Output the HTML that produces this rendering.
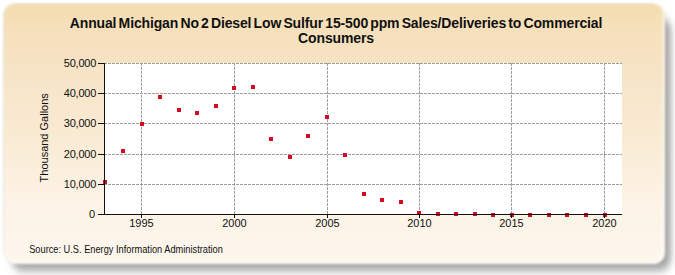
<!DOCTYPE html>
<html><head><meta charset="utf-8"><style>
html,body{margin:0;padding:0;background:#fff;width:675px;height:275px;overflow:hidden}
.shadow{position:absolute;left:0;top:0}
.box{position:absolute;left:3.5px;top:3.5px;width:661px;height:260.3px;border-radius:12px;border:0;box-sizing:border-box;background:linear-gradient(to bottom,#f5dcae 0%,#f6e0ba 8%,#f6e3c4 22%,#f8e7cd 37%,#f9ead2 49%,#fdf3e6 77%,#fdf7ee 100%);filter:blur(1.1px);box-shadow:inset -3px -2px 3px -1px rgba(255,255,255,0.7), -1px -1px 0 0 rgba(90,90,50,0.16)}
.title{position:absolute;left:0;width:672px;top:16px;text-align:center;font:bold 14px/15px "Liberation Sans",sans-serif;color:#111;letter-spacing:-0.14px;word-spacing:-1.5px}
svg{position:absolute;left:0;top:0}
text{font-family:"Liberation Sans",sans-serif;font-size:11px;fill:#111} .yl text{letter-spacing:-0.2px}
</style></head><body>
<svg class="shadow" width="675" height="275"><defs><filter id="sh" x="-10%" y="-10%" width="120%" height="130%"><feGaussianBlur stdDeviation="3.1 4.5"/></filter></defs><rect x="11" y="17" width="660" height="254" rx="13" fill="rgba(0,0,0,0.35)" filter="url(#sh)"/></svg>
<div class="box"></div>
<div class="title">Annual Michigan No 2 Diesel Low Sulfur 15-500 ppm Sales/Deliveries to Commercial<br>Consumers</div>
<svg width="675" height="275" viewBox="0 0 675 275">
<rect x="104" y="63" width="518" height="151" fill="#fff"/>
<g stroke="#9e9e9e" stroke-width="1" stroke-dasharray="3,1" shape-rendering="crispEdges">
<line x1="104" y1="184.5" x2="622" y2="184.5"/><line x1="104" y1="154.5" x2="622" y2="154.5"/><line x1="104" y1="123.5" x2="622" y2="123.5"/><line x1="104" y1="93.5" x2="622" y2="93.5"/><line x1="104" y1="63.5" x2="622" y2="63.5"/>
<line x1="141.5" y1="63" x2="141.5" y2="214"/><line x1="234.5" y1="63" x2="234.5" y2="214"/><line x1="327.5" y1="63" x2="327.5" y2="214"/><line x1="419.5" y1="63" x2="419.5" y2="214"/><line x1="511.5" y1="63" x2="511.5" y2="214"/><line x1="604.5" y1="63" x2="604.5" y2="214"/>
</g>
<g fill="#d20c1d" shape-rendering="crispEdges"><rect x="103" y="180" width="4" height="4"/><rect x="121" y="149" width="4" height="4"/><rect x="140" y="122" width="4" height="4"/><rect x="158" y="95" width="4" height="4"/><rect x="177" y="108" width="4" height="4"/><rect x="195" y="111" width="4" height="4"/><rect x="214" y="104" width="4" height="4"/><rect x="232" y="86" width="4" height="4"/><rect x="251" y="85" width="4" height="4"/><rect x="269" y="137" width="4" height="4"/><rect x="288" y="155" width="4" height="4"/><rect x="306" y="134" width="4" height="4"/><rect x="325" y="115" width="4" height="4"/><rect x="343" y="153" width="4" height="4"/><rect x="362" y="192" width="4" height="4"/><rect x="380" y="198" width="4" height="4"/><rect x="399" y="200" width="4" height="4"/><rect x="417" y="211" width="4" height="4"/><rect x="436" y="212" width="4" height="4"/><rect x="454" y="212" width="4" height="4"/><rect x="473" y="212" width="4" height="4"/><rect x="491" y="213" width="4" height="4"/><rect x="510" y="213" width="4" height="4"/><rect x="528" y="213" width="4" height="4"/><rect x="547" y="213" width="4" height="4"/><rect x="565" y="213" width="4" height="4"/><rect x="584" y="213" width="4" height="4"/><rect x="603" y="213" width="4" height="4"/></g>
<g stroke="#111" stroke-width="1" shape-rendering="crispEdges">
<line x1="104.5" y1="63" x2="104.5" y2="215"/>
<line x1="104" y1="214.5" x2="622" y2="214.5"/>
<line x1="98" y1="214.5" x2="104" y2="214.5"/><line x1="98" y1="184.5" x2="104" y2="184.5"/><line x1="98" y1="154.5" x2="104" y2="154.5"/><line x1="98" y1="123.5" x2="104" y2="123.5"/><line x1="98" y1="93.5" x2="104" y2="93.5"/><line x1="98" y1="63.5" x2="104" y2="63.5"/>
<line x1="141.5" y1="214" x2="141.5" y2="218"/><line x1="234.5" y1="214" x2="234.5" y2="218"/><line x1="327.5" y1="214" x2="327.5" y2="218"/><line x1="419.5" y1="214" x2="419.5" y2="218"/><line x1="511.5" y1="214" x2="511.5" y2="218"/><line x1="604.5" y1="214" x2="604.5" y2="218"/>
</g>
<g text-anchor="end" class="yl"><text x="95" y="218">0</text><text x="96.2" y="188">10,000</text><text x="96.2" y="158">20,000</text><text x="96.2" y="127">30,000</text><text x="96.2" y="97">40,000</text><text x="96.2" y="67">50,000</text></g>
<g text-anchor="middle"><text x="141.5" y="227.2">1995</text><text x="234.5" y="227.2">2000</text><text x="327.5" y="227.2">2005</text><text x="419.5" y="227.2">2010</text><text x="511.5" y="227.2">2015</text><text x="604.5" y="227.2">2020</text></g>
<text transform="translate(48,137.8) rotate(-90)" text-anchor="middle">Thousand Gallons</text>
<text transform="translate(29.2,253.2) scale(0.925,1)" style="font-size:10px">Source: U.S. Energy Information Administration</text>
</svg>
</body></html>
